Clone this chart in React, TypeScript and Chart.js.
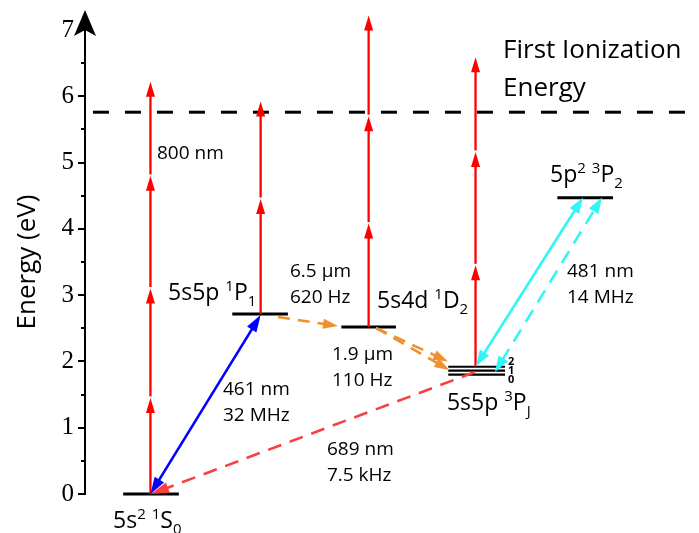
import React, { useEffect, useRef } from 'react';
import { Chart, registerables } from 'chart.js';
Chart.register(...registerables);

// ---------- DATA ----------
const yTicks = [0, 1, 2, 3, 4, 5, 6, 7];
const levelNames = ['5s^2 ^1S_0', '5s5p ^1P_1', '5s4d ^1D_2', '5s5p ^3P_J', '5p^2 ^3P_2'];
const levelEnergies = [0, 2.715, 2.52, 1.86, 4.47];
const levelStart = [0.75, 1.75, 2.75, 3.73, 4.73];
const levelEnd = [1.26, 2.26, 3.25, 4.25, 5.24];
const fineLabels = ['2', '1', '0'];
const fineEnergies = [1.92, 1.86, 1.8];
const ionizationEnergy = 5.76;
const ionizationLabel = ['First Ionization', 'Energy'];

// 800 nm multiphoton ladders: column x and successive energies
const ladderX = [1.0, 2.01, 3.0, 3.98];
const ladderSteps = [
  [0, 1.45, 3.1, 4.8, 6.22],
  [2.715, 4.45, 5.92],
  [2.52, 4.08, 5.7, 7.22],
  [1.92, 3.45, 5.16, 6.59],
];
const ladderLabel = ['800 nm'];

// transitions: [x1, E1, x2, E2]
const transitionNames = ['blue461', 'orange65', 'orange19a', 'orange19b', 'red689', 'cyan481', 'cyan481d'];
const transitionFrom = [[1.0, 0], [2.169, 2.67], [3.068, 2.504], [3.068, 2.504], [3.975, 1.84], [3.984, 1.931], [4.158, 1.84]];
const transitionTo = [[2.01, 2.70], [2.719, 2.534], [3.728, 2.0], [3.74, 1.87], [1.005, 0], [4.965, 4.473], [5.139, 4.473]];
const transitionLabels = [['461 nm', '32 MHz'], ['6.5 μm', '620 Hz'], ['1.9 μm', '110 Hz'], ['689 nm', '7.5 kHz'], ['481 nm', '14 MHz']];

// ---------- LAYOUT / STYLE (not data) ----------
const SANS = '"Open Sans", "Noto Sans", sans-serif';
const transitionStyle: Record<string, any> = {
  blue461: { color: '#0000ff', width: 2.6, dash: [], start: true, end: true, L: 17, W: 11 },
  orange65: { color: '#f0902e', width: 2.6, dash: [12, 8], start: false, end: true, L: 15, W: 10 },
  orange19a: { color: '#f0902e', width: 2.6, dash: [12, 8], start: false, end: true, L: 15, W: 10 },
  orange19b: { color: '#f0902e', width: 2.6, dash: [12, 8], start: false, end: true, L: 15, W: 10 },
  red689: { color: '#f84040', width: 2.6, dash: [14, 9], start: false, end: true, L: 18, W: 11 },
  cyan481: { color: '#33f5f5', width: 2.6, dash: [], start: true, end: true, L: 16, W: 11 },
  cyan481d: { color: '#33f5f5', width: 2.6, dash: [14, 9], start: true, end: true, L: 16, W: 11 },
};
// label anchors in data units: [left x, first-line centre E]
const transitionLabelPos = [[1.665, 1.569], [2.279, 3.349], [2.664, 2.097], [2.618, 0.664], [4.818, 3.349]];
const ladderLabelPos = [1.06, 5.13];
// level labels: [left x, baseline E]
const levelLabelPos = [[0.657, -0.513], [1.161, 2.927], [3.077, 2.806], [3.718, 1.267], [4.663, 4.707]];
const fineLabelPos = [4.277, [2.0, 1.863, 1.727]];
const ionLabelPos = [4.232, [6.577, 6.004]];

function parseRich(s: string) {
  const out: { t: string; k: 'n' | 'sup' | 'sub' }[] = [];
  for (let i = 0; i < s.length; i++) {
    const c = s[i];
    if (c === '^') { out.push({ t: s[i + 1], k: 'sup' }); i++; }
    else if (c === '_') { out.push({ t: s[i + 1], k: 'sub' }); i++; }
    else out.push({ t: c, k: 'n' });
  }
  return out;
}

function drawRich(ctx: CanvasRenderingContext2D, s: string, x: number, y: number, size: number) {
  const parts = parseRich(s);
  const small = Math.round(size * 0.66);
  let cx = x;
  ctx.textAlign = 'left';
  ctx.textBaseline = 'alphabetic';
  for (const p of parts) {
    const sz = p.k === 'n' ? size : small;
    ctx.font = `${sz}px ${SANS}`;
    const dy = p.k === 'sup' ? -size * 0.4 : p.k === 'sub' ? size * 0.27 : 0;
    ctx.fillText(p.t, cx, y + dy);
    cx += ctx.measureText(p.t).width;
  }
}

function head(ctx: CanvasRenderingContext2D, tx: number, ty: number, ux: number, uy: number, L: number, W: number) {
  const bx = tx - ux * L, by = ty - uy * L;
  const nx = -uy, ny = ux;
  ctx.beginPath();
  ctx.moveTo(tx, ty);
  ctx.lineTo(bx + nx * W / 2, by + ny * W / 2);
  ctx.lineTo(bx - nx * W / 2, by - ny * W / 2);
  ctx.closePath();
  ctx.fill();
}

function arrow(ctx: CanvasRenderingContext2D, x1: number, y1: number, x2: number, y2: number, st: any) {
  const dx = x2 - x1, dy = y2 - y1;
  const len = Math.hypot(dx, dy);
  const ux = dx / len, uy = dy / len;
  let sx = x1, sy = y1, ex = x2, ey = y2;
  if (st.start) { sx += ux * st.L * 0.8; sy += uy * st.L * 0.8; }
  if (st.end) { ex -= ux * st.L * 0.8; ey -= uy * st.L * 0.8; }
  ctx.save();
  ctx.strokeStyle = st.color;
  ctx.fillStyle = st.color;
  ctx.lineWidth = st.width;
  ctx.setLineDash(st.dash || []);
  ctx.beginPath();
  ctx.moveTo(sx, sy);
  ctx.lineTo(ex, ey);
  ctx.stroke();
  ctx.setLineDash([]);
  if (st.end) head(ctx, x2, y2, ux, uy, st.L, st.W);
  if (st.start) head(ctx, x1, y1, -ux, -uy, st.L, st.W);
  ctx.restore();
}

const diagramPlugin = {
  id: 'diagram',
  afterDatasetsDraw(chart: any) {
    const ctx: CanvasRenderingContext2D = chart.ctx;
    const xs = chart.scales.x, ys = chart.scales.y;
    const X = (v: number) => xs.getPixelForValue(v);
    const Y = (v: number) => ys.getPixelForValue(v);
    const axisX = chart.chartArea.left;

    ctx.save();
    // axis extension and arrow head
    ctx.strokeStyle = '#000';
    ctx.fillStyle = '#000';
    ctx.lineWidth = 2;
    ctx.beginPath();
    ctx.moveTo(axisX, Y(7) + 1);
    ctx.lineTo(axisX, Y(7) - 4);
    ctx.stroke();
    const tipY = Y(7) - 20;
    ctx.beginPath();
    ctx.moveTo(axisX, tipY);
    ctx.lineTo(axisX + 11, tipY + 26);
    ctx.lineTo(axisX, tipY + 20);
    ctx.lineTo(axisX - 11, tipY + 26);
    ctx.closePath();
    ctx.fill();
    // minor ticks
    for (let i = 0; i < yTicks.length - 1; i++) {
      const yy = Math.round(Y((yTicks[i] + yTicks[i + 1]) / 2));
      ctx.beginPath();
      ctx.moveTo(axisX - 4, yy);
      ctx.lineTo(axisX, yy);
      ctx.stroke();
    }
    ctx.restore();

    // red 800 nm ladders
    ladderX.forEach((lx, i) => {
      const steps = ladderSteps[i];
      for (let k = 0; k < steps.length - 1; k++) {
        arrow(ctx, X(lx), Y(steps[k]) - (k > 0 ? 1.5 : 0), X(lx), Y(steps[k + 1]),
          { color: '#ff0000', width: 2.3, dash: [], start: false, end: true, L: 15, W: 9 });
      }
    });

    // transitions
    transitionNames.forEach((n, i) => {
      const f = transitionFrom[i], t = transitionTo[i];
      arrow(ctx, X(f[0]), Y(f[1]), X(t[0]), Y(t[1]), transitionStyle[n]);
    });

    // texts
    ctx.save();
    ctx.fillStyle = '#000';
    ctx.textAlign = 'left';
    ctx.textBaseline = 'middle';
    ctx.font = `19px ${SANS}`;
    ctx.fillText(ladderLabel[0], X(ladderLabelPos[0]), Y(ladderLabelPos[1]));
    transitionLabels.forEach((lines, i) => {
      const [lx, ly] = transitionLabelPos[i];
      lines.forEach((ln, j) => ctx.fillText(ln, X(lx), Y(ly) + j * 26));
    });
    // level labels
    levelNames.forEach((nm, i) => {
      const [lx, ly] = levelLabelPos[i];
      drawRich(ctx, nm, X(lx), Y(ly), 23);
    });
    // fine structure labels
    ctx.font = `bold 11px ${SANS}`;
    ctx.textBaseline = 'middle';
    fineLabels.forEach((f, i) => {
      ctx.fillText(f, X(fineLabelPos[0] as number), Y((fineLabelPos[1] as number[])[i]));
    });
    // ionization label
    ctx.font = `26px ${SANS}`;
    ctx.textBaseline = 'alphabetic';
    ionizationLabel.forEach((t, i) => {
      ctx.fillText(t, X(ionLabelPos[0] as number), Y((ionLabelPos[1] as number[])[i]));
    });
    ctx.restore();
  },
};

export default function App() {
  const ref = useRef<HTMLCanvasElement>(null);
  useEffect(() => {
    const canvas = ref.current!;
    const datasets: any[] = [];
    levelNames.forEach((_, i) => {
      if (i === 3) return;
      datasets.push({
        data: [{ x: levelStart[i], y: levelEnergies[i] }, { x: levelEnd[i], y: levelEnergies[i] }],
        borderColor: '#000', borderWidth: 3, pointRadius: 0, clip: false,
      });
    });
    fineEnergies.forEach((e) => {
      datasets.push({
        data: [{ x: levelStart[3], y: e }, { x: levelEnd[3], y: e }],
        borderColor: '#000', borderWidth: 2.2, pointRadius: 0, clip: false,
      });
    });
    datasets.push({
      data: [{ x: 0.473, y: ionizationEnergy }, { x: 5.92, y: ionizationEnergy }],
      borderColor: '#000', borderWidth: 3, borderDash: [16, 16], pointRadius: 0, clip: false,
    });

    const chart = new Chart(canvas, {
      type: 'line',
      data: { datasets },
      options: {
        animation: false,
        responsive: false,
        maintainAspectRatio: false,
        layout: { padding: { left: 0, right: 14, top: 30, bottom: 39 } },
        plugins: { legend: { display: false }, tooltip: { enabled: false } },
        elements: { line: { tension: 0 } },
        scales: {
          x: { type: 'linear', min: 0.4, max: 5.9, display: false },
          y: {
            type: 'linear', min: 0, max: 7,
            afterFit: (s: any) => { s.width = 85; },
            ticks: {
              stepSize: 1, autoSkip: false, color: '#000', padding: 4,
              font: { family: '"Liberation Serif", "DejaVu Serif", serif', size: 25 },
            },
            grid: { drawOnChartArea: false, drawTicks: true, tickLength: 7, color: '#000', lineWidth: 2 },
            border: { display: true, color: '#000', width: 2 },
            title: {
              display: true, text: 'Energy (eV)', color: '#000',
              font: { family: SANS, size: 26, weight: 'normal' },
              padding: { top: 12, bottom: 0 },
            },
          },
        },
      },
      plugins: [diagramPlugin],
    } as any);
    return () => chart.destroy();
  }, []);
  return (
    <div style={{ position: 'fixed', left: 0, top: 0, width: 699, height: 533, background: '#fff' }}>
      <canvas ref={ref} width={699} height={533} style={{ display: 'block' }} />
    </div>
  );
}
